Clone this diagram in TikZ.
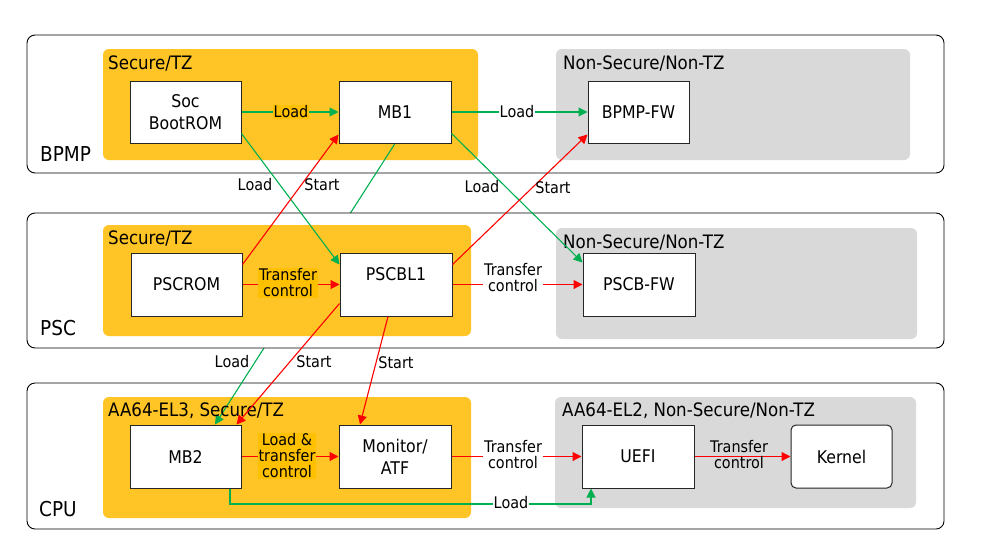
\documentclass[tikz,border=0pt]{standalone}
\usepackage{fontspec}
\setmainfont{DejaVu Sans}[FakeStretch=0.9]
\usetikzlibrary{arrows.meta}
\definecolor{tzyellow}{HTML}{FFC425}
\definecolor{tzlabel}{HTML}{FFC000}
\definecolor{nsgrey}{HTML}{D9D9D9}
\definecolor{ldgreen}{HTML}{00B050}
\definecolor{ctlred}{HTML}{FF0000}
\pgfdeclarelayer{back}
\pgfdeclarelayer{mid}
\pgfsetlayers{back,mid,main}

\begin{document}
\begin{tikzpicture}[x=1pt,y=-1pt,
  procbox/.style={draw=black, line width=0.9pt, rounded corners=8pt, fill=white},
  secgrp/.style={fill=tzyellow, rounded corners=6pt},
  nsgrp/.style={fill=nsgrey, rounded corners=6pt},
  grplabel/.style={anchor=west, inner sep=0pt, font=\fontsize{18.5}{20}\selectfont},
  rowlabel/.style={anchor=west, inner sep=0pt, font=\fontsize{20.5}{22}\selectfont},
  fw/.style={draw=black!85, line width=1pt, fill=white, align=center, inner sep=0pt,
    minimum width=111pt, minimum height=62pt, font=\fontsize{17.5}{22}\selectfont},
  load/.style={draw=ldgreen, line width=1.1pt, -{Triangle[length=9pt,width=9pt]}},
  ctl/.style={draw=ctlred, line width=1.1pt, -{Triangle[length=9pt,width=9pt]}},
  elabel/.style={align=center, inner sep=1pt, font=\fontsize{16}{16}\selectfont},
]
\useasboundingbox (0,0) rectangle (982,555);

% ---------- BPMP and CPU processors (bottom layer) ----------
\begin{pgfonlayer}{back}
  \draw[procbox] (27,35) rectangle (944,173);
  \fill[secgrp] (103,49) rectangle (478,160);
  \fill[nsgrp] (556,49) rectangle (910,160);

  \draw[procbox] (27,383) rectangle (944,529);
  \fill[secgrp] (103,397) rectangle (471,518);
  \fill[nsgrp] (555,397) rectangle (916,508);
\end{pgfonlayer}

\node[rowlabel] (lbpmp) at (40,154) {BPMP};
\node[grplabel] (gbpmps) at (108,63) {Secure/TZ};
\node[grplabel] (gbpmpn) at (563,63) {Non-Secure/Non-TZ};

\node[rowlabel] (lcpu) at (39,509) {CPU};
\node[grplabel] (gcpus) at (108,411) {AA64-EL3, Secure/TZ};
\node[grplabel] (gcpun) at (562,411) {AA64-EL2, Non-Secure/Non-TZ};

% ---------- PSC processor (covers the MB1 -> MB2 line) ----------
\draw[procbox] (27,213) rectangle (944,348);
\fill[secgrp] (103,225) rectangle (471,336);
\fill[nsgrp] (556,228) rectangle (917,339);
\node[rowlabel] (lpsc) at (40,328) {PSC};
\node[grplabel] (gpscs) at (108,238) {Secure/TZ};
\node[grplabel] (gpscn) at (563,242) {Non-Secure/Non-TZ};

% ---------- firmware blocks ----------
\node[fw] (sbr) at (185.5,112) {Soc\\BootROM};
\node[fw, minimum width=112pt] (mb1) at (395,112) {MB1};
\node[fw, minimum width=101pt] (bpmpfw) at (638.5,112) {BPMP-FW};

\node[fw, minimum height=63pt] (pscrom) at (186.5,284.5) {PSCROM};
\node[fw, minimum width=112pt, minimum height=63pt] (pscbl1) at (396,284.5) {PSCBL1\\\mbox{}};
\node[fw, minimum width=112pt, minimum height=63pt] (pscbfw) at (639,284.5) {PSCB-FW};

\node[fw, minimum height=63pt] (mb2) at (185.5,456.5) {MB2};
\node[fw, minimum width=112pt, minimum height=63pt] (mon) at (395,456.5) {Monitor/\\ATF};
\node[fw, minimum width=112pt, minimum height=63pt] (uefi) at (638,456.5) {UEFI};
\node[fw, minimum width=101pt, minimum height=63pt, rounded corners=5pt] (kernel) at (841.5,456.5) {Kernel};

% ---------- MB1 loads MB2 (passes behind the PSC processor) ----------
\begin{pgfonlayer}{mid}
  \draw[load] (mb1.south) -- ([xshift=29.5pt]mb2.north);
\end{pgfonlayer}

% ---------- load paths ----------
\draw[load] (sbr.east) -- (mb1.west);
\draw[load] (mb1.east) -- (bpmpfw.west);
\draw[load] ([yshift=10pt]sbr.south east) -- ([yshift=-12pt]pscbl1.north west);
\draw[load] ([yshift=10pt]mb1.south east) -- ([yshift=-10pt]pscbfw.north west);
\coordinate (mb2out) at ([xshift=44.5pt]mb2.south);
\coordinate (uefiin) at ([xshift=-47pt]uefi.south);
\draw[load] (mb2out) -- ([yshift=-15.5pt]mb2out) -| (uefiin);

% ---------- start / control transfer paths ----------
\draw[ctl] ([yshift=-12pt]pscrom.north east) -- ([yshift=9pt]mb1.south west);
\draw[ctl] ([yshift=-12pt]pscbl1.north east) -- ([yshift=9pt]bpmpfw.south west);
\draw[ctl] (pscrom.east) -- (pscbl1.west);
\draw[ctl] (pscbl1.east) -- (pscbfw.west);
\draw[ctl] ([yshift=13pt]pscbl1.south west) -- ([xshift=-5pt]mb2.north east);
\draw[ctl] ([xshift=-8pt]pscbl1.south) -- ([xshift=-35pt]mon.north);
\draw[ctl] (mb2.east) -- (mon.west);
\draw[ctl] (mon.east) -- (uefi.west);
\draw[ctl] (uefi.east) -- (kernel.west);

% ---------- connector labels ----------
\node[elabel, fill=tzlabel] (t1) at (291,112) {Load};
\node[elabel, fill=white] (t2) at (517,112) {Load};
\node[elabel] (t3) at (255,185) {Load};
\node[elabel] (t4) at (322,185) {Start};
\node[elabel] (t5) at (482,187) {Load};
\node[elabel] (t6) at (553,188) {Start};
\node[elabel, fill=tzlabel] (t7) at (288,283) {Transfer\\control};
\node[elabel, fill=white] (t8) at (513,278) {Transfer\\control};
\node[elabel] (t9) at (232,362) {Load};
\node[elabel] (t10) at (314,362) {Start};
\node[elabel] (t11) at (396,363) {Start};
\node[elabel, fill=tzlabel] (t12) at (287,456) {Load \&\\transfer\\control};
\node[elabel, fill=white] (t13) at (513,455) {Transfer\\control};
\node[elabel] (t14) at (739,455) {Transfer\\control};
\node[elabel, fill=white] (t15) at (511,503) {Load};
\end{tikzpicture}
\end{document}
